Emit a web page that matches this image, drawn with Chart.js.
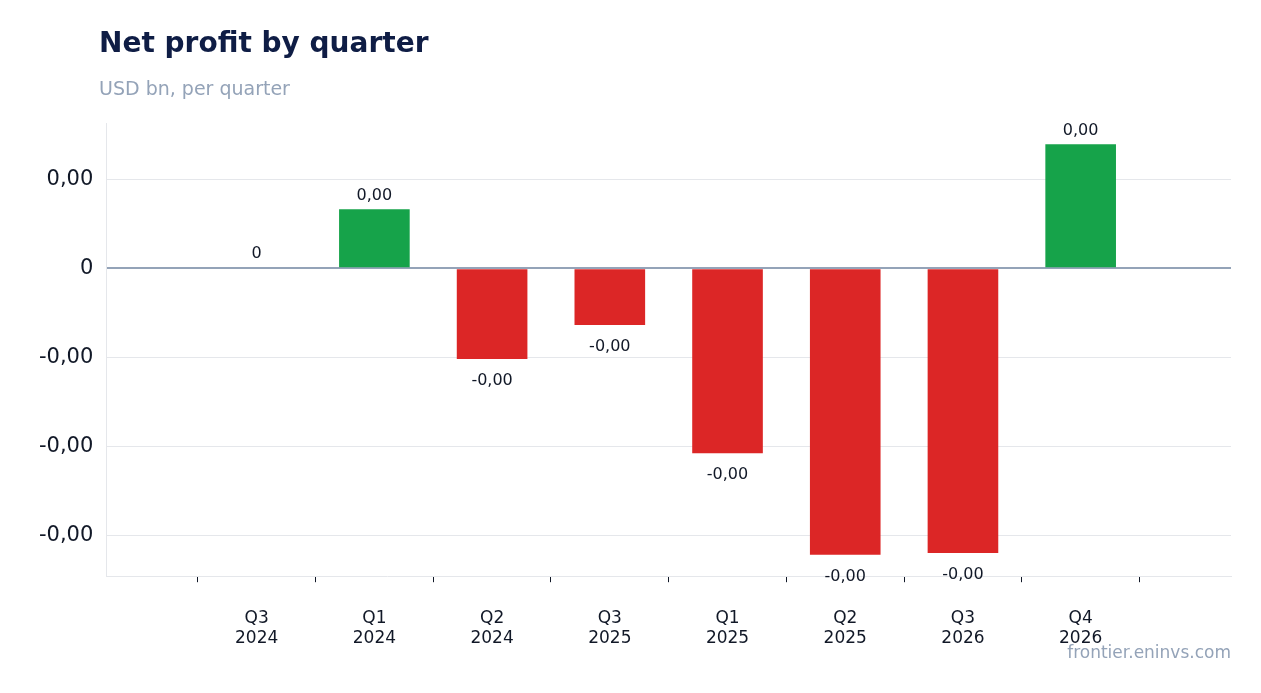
<!DOCTYPE html>
<html><head><meta charset="utf-8">
<script src="https://cdn.jsdelivr.net/npm/chart.js@4"></script>
<style>
body{margin:0;background:#fff;font-family:"DejaVu Sans",sans-serif;}
#wrap{position:relative;width:1261px;height:693px;}
canvas{position:absolute;left:0;top:0;}
.t{position:absolute;left:99px;top:26px;font-size:28px;font-weight:bold;color:#0f1d45;}
.s{position:absolute;left:99px;top:77px;font-size:19px;color:#94a3b8;}
.f{position:absolute;right:30px;top:642px;font-size:17px;color:#94a3b8;}
</style></head><body>
<div id="wrap">
<canvas id="c" width="1261" height="693"></canvas>
<div class="t">Net profit by quarter</div>
<div class="s">USD bn, per quarter</div>
<div class="f">frontier.eninvs.com</div>
</div>
<script>
const quarters = [["Q3","2024"],["Q1","2024"],["Q2","2024"],["Q3","2025"],["Q1","2025"],["Q2","2025"],["Q3","2026"],["Q4","2026"]];
const profit = [0, 0.00066, -0.00102, -0.00064, -0.00208, -0.00322, -0.0032, 0.00139];
const yTicks = [0.001, 0, -0.001, -0.002, -0.003];

const fmt = v => v === 0 ? "0" : v.toFixed(2).replace(".", ",");

const labelPlugin = {
    id: "valueLabels",
    afterDatasetsDraw(chart) {
        const ctx = chart.ctx;
        const meta = chart.getDatasetMeta(0);
        ctx.save();
        ctx.font = "16px 'DejaVu Sans'";
        ctx.fillStyle = "#111827";
        ctx.textAlign = "center";
        meta.data.forEach((bar, i) => {
            const v = profit[i];
            if (v >= 0) {
                ctx.textBaseline = "bottom";
                ctx.fillText(fmt(v), bar.x, bar.y - 6);
            } else {
                ctx.textBaseline = "top";
                ctx.fillText(fmt(v), bar.x, bar.y + 14);
            }
        });
        ctx.restore();
    }
};

new Chart(document.getElementById("c"), {
    type: "bar",
    data: {
        datasets: [{
            data: profit.map((v, i) => ({ x: i, y: v })),
            backgroundColor: profit.map(v => v >= 0 ? "#16a34a" : "#dc2626"),
            barPercentage: 0.6,
            categoryPercentage: 1
        }]
    },
    options: {
        responsive: false,
        animation: false,
        layout: { padding: { left: 26, right: 30, top: 123, bottom: 18 } },
        plugins: { legend: { display: false }, tooltip: { enabled: false } },
        scales: {
            x: {
                type: "linear",
                min: -0.68,
                max: 7.68,
                afterBuildTicks: axis => {
                    axis.ticks = quarters.map((q, i) => ({ value: i }));
                },
                grid: { drawOnChartArea: false, drawTicks: true, tickLength: 6, tickColor: "#111827" },
                border: { color: "#e5e7eb" },
                ticks: { color: "#111827", font: { size: 17, family: "DejaVu Sans" }, padding: 26,
                    callback: v => quarters[v] }
            },
            y: {
                min: -0.00346,
                max: 0.00163,
                afterBuildTicks: axis => {
                    axis.ticks = yTicks.map(v => ({ value: v }));
                },
                grid: {
                    color: c => c.tick && c.tick.value === 0 ? "#94a3b8" : "#e5e7eb",
                    lineWidth: c => c.tick && c.tick.value === 0 ? 2 : 1,
                    drawTicks: false
                },
                border: { color: "#e5e7eb" },
                ticks: { color: "#111827", font: { size: 21, family: "DejaVu Sans" }, padding: 13, callback: v => fmt(v) }
            }
        }
    },
    plugins: [labelPlugin]
});
</script>
</body></html>
